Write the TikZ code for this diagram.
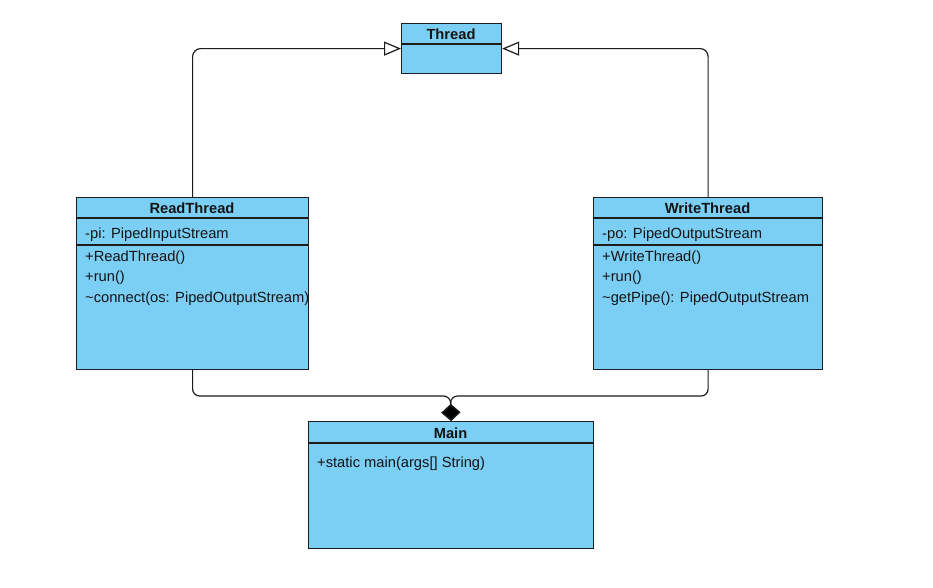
\documentclass[tikz,border=0pt]{standalone}
\usepackage{fontspec}
\setmainfont{Liberation Sans}
\usetikzlibrary{arrows.meta}
\definecolor{clsfill}{HTML}{7BCEF4}
\definecolor{clsline}{HTML}{1C1C1C}
\definecolor{txt}{HTML}{141414}
\begin{document}
\begin{tikzpicture}[x=1pt,y=-1pt,
  cls/.style={draw=clsline, fill=clsfill, line width=1.2pt, rectangle, inner sep=0pt, anchor=north west},
  sep/.style={draw=clsline, line width=1.2pt},
  hdr/.style={font=\fontsize{14.7}{17}\selectfont\bfseries, text=txt, inner sep=0pt, text height=10.6pt, text depth=0pt},
  mem/.style={font=\fontsize{14.7}{17}\selectfont, text=txt, inner sep=0pt, anchor=west, text height=10.6pt, text depth=0pt},
  gen/.style={draw=clsline, line width=1.2pt, rounded corners=8pt, -{Triangle[open, length=17pt, width=14pt, fill=white]}},
  comp/.style={draw=clsline, line width=1.2pt, rounded corners=7pt, -{Diamond[length=17pt, width=19pt, fill=black]}}
]
\useasboundingbox[fill=white] (0,0) rectangle (933,587);

% Thread
\node[cls, minimum width=100pt, minimum height=50pt] (th) at (401,23) {};
\draw[sep] (401,44) -- (501,44);
\node[hdr] (thh) at (451,34) {Thread};

% ReadThread
\node[cls, minimum width=232pt, minimum height=172pt] (rt) at (76,197) {};
\draw[sep] (76,218) -- (308,218);
\draw[sep] (76,245) -- (308,245);
\node[hdr] (rth) at (192,208) {ReadThread};
\node[mem] (rt1) at (85,233) {-pi: PipedInputStream};
\node[mem] (rt2) at (85,256) {+ReadThread()};
\node[mem] (rt3) at (85,276) {+run()};
\node[mem] (rt4) at (85,297) {\textasciitilde connect(os: PipedOutputStream)};

% WriteThread
\node[cls, minimum width=229pt, minimum height=172pt] (wt) at (593,197) {};
\draw[sep] (593,218) -- (822,218);
\draw[sep] (593,245) -- (822,245);
\node[hdr] (wth) at (707.5,208) {WriteThread};
\node[mem] (wt1) at (602,233) {-po: PipedOutputStream};
\node[mem] (wt2) at (602,256) {+WriteThread()};
\node[mem] (wt3) at (602,276) {+run()};
\node[mem] (wt4) at (602,297) {\textasciitilde getPipe(): PipedOutputStream};

% Main
\node[cls, minimum width=285pt, minimum height=127pt] (mn) at (308,421) {};
\draw[sep] (308,443) -- (593,443);
\node[hdr] (mnh) at (450.5,433) {Main};
\node[mem] (mn1) at (317,462) {+static main(args[] String)};

% connectors
\draw[gen] (rt.north) |- (th.west);
\draw[gen] (wt.north) |- (th.east);
\coordinate (j) at (450.5,396);
\draw[comp] (rt.south) |- (j) -- (mn.north);
\draw[comp] (wt.south) |- (j) -- (mn.north);
\end{tikzpicture}
\end{document}
